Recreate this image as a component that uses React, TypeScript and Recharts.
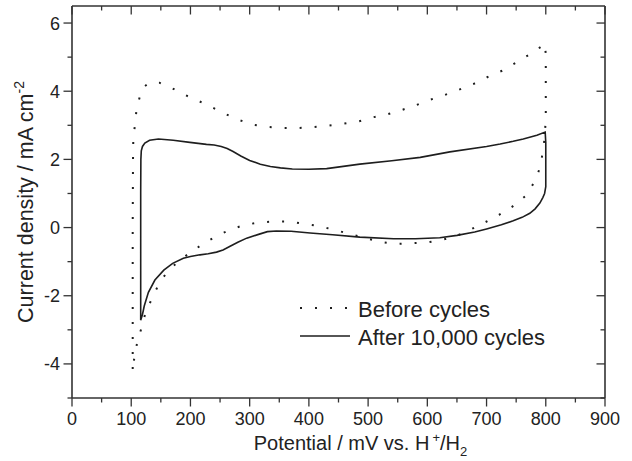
import React from 'react';
import { LineChart, Line, XAxis, YAxis, Legend } from 'recharts';

// ---- data (potential in mV, current density in mA cm^-2) ----
const beforeCycles: [number, number][] = [
  [102.5, -4.15], [102.5, -2], [102.5, 0], [103, 2], [103.5, 2.6], [106.4, 3.03], [109, 3.47], [116, 3.94],
  [123, 4.15], [130.6, 4.25], [147.5, 4.25], [170, 4.08], [190.8, 3.89], [213, 3.72], [234, 3.55], [257, 3.35],
  [281, 3.16], [307.5, 3.01], [331.5, 2.95], [357, 2.92], [382, 2.92], [407.5, 2.95], [434, 2.99], [460, 3.05],
  [485, 3.12], [510, 3.24], [532, 3.32], [557, 3.45], [581, 3.59], [604.5, 3.75], [628, 3.88], [653, 4.04],
  [677.6, 4.21], [701, 4.41], [726, 4.6], [749, 4.83], [772, 5.07], [795, 5.34], [798, 5.4], [800, 5.1],
  [800, 4.0], [800, 3.2], [798, 2.6], [795, 2.29], [792, 1.85], [783, 1.41], [768, 0.96], [744, 0.62],
  [721, 0.37], [697, 0.15], [674, -0.05], [650, -0.24], [625, -0.36], [598, -0.44], [572, -0.46], [547, -0.48],
  [521, -0.42], [489, -0.28], [465, -0.17], [440, -0.05], [414, 0.05], [390.6, 0.11], [367, 0.18], [341.6, 0.18],
  [316, 0.15], [292, 0.08], [270.6, -0.04], [247, -0.22], [225.8, -0.43], [203.8, -0.68], [185, -0.92],
  [163, -1.25], [147.6, -1.62], [137, -2.01], [124.4, -2.48], [117.7, -2.92], [110, -3.38], [105, -3.85],
  [102.5, -4.15],
];

const afterCycles: [number, number][] = [
  [116, -2.72], [116, -1], [116, 1], [116.3, 2.0], [117, 2.25], [119, 2.38], [123, 2.48], [131, 2.56],
  [146, 2.6], [171, 2.56], [199, 2.5], [227, 2.44], [240, 2.42], [252, 2.38], [262, 2.32], [272, 2.23],
  [285, 2.1], [300, 1.97], [318, 1.86], [335, 1.79], [352, 1.75], [372, 1.72], [400, 1.71], [430, 1.73],
  [486, 1.86], [540, 1.96], [588, 2.06], [638, 2.22], [700, 2.38], [723, 2.45], [745, 2.53], [762, 2.6],
  [785, 2.71], [799, 2.8], [800, 2.5], [800, 1.8], [800, 1.2], [798, 1.0], [795, 0.88], [790, 0.72],
  [782, 0.55], [773, 0.42], [760, 0.3], [745, 0.2], [725, 0.08], [700, -0.04], [680, -0.13], [650, -0.23],
  [621, -0.3], [580, -0.33], [543, -0.33], [486, -0.28], [440, -0.21], [402, -0.16], [370, -0.11],
  [345, -0.1], [330, -0.12], [315, -0.2], [295, -0.31], [280, -0.43], [267, -0.55], [255, -0.66],
  [244, -0.72], [230, -0.77], [216, -0.8], [200, -0.85], [188, -0.9], [170, -1.05], [155, -1.25],
  [140, -1.54], [129, -1.9], [122, -2.3], [119, -2.55], [116, -2.72],
];

const seriesNames = ['Before cycles', 'After 10,000 cycles'];
const xTicks = [0, 50, 100, 150, 200, 250, 300, 350, 400, 450, 500, 550, 600, 650, 700, 750, 800, 850, 900];
const yTicks = [-5, -4, -3, -2, -1, 0, 1, 2, 3, 4, 5, 6];
const xDomain: [number, number] = [0, 900];
const yDomain: [number, number] = [-5, 6.5];

const toPoints = (arr: [number, number][]) => arr.map(([x, y]) => ({ x, y }));
const beforeData = toPoints(beforeCycles);
const afterData = toPoints(afterCycles);

// ---- styles ----
const FONT = "'Liberation Sans', Arial, Helvetica, sans-serif";
const AXIS = '#333';
const INK = '#1e1e1e';
const TEXT = '#222';
const MAJOR = 8.5;
const MINOR = 4.5;
const seriesStyles = [
  { dash: '2 13' as string | undefined, width: 2 },
  { dash: undefined as string | undefined, width: 1.6 },
];

const isMajorX = (v: number) => v % 100 === 0;
const isMajorY = (v: number) => Math.abs(v % 2) === 0;

function BottomTick(props: any) {
  const { x, y, payload } = props;
  const major = isMajorX(payload.value);
  return (
    <g>
      <line x1={x} y1={y} x2={x} y2={y + (major ? MAJOR : MINOR)} stroke={AXIS} strokeWidth={1.3} />
      {major && (
        <text x={x} y={y + 27} textAnchor="middle" fontSize={18} fill={TEXT} fontFamily={FONT}>
          {payload.value}
        </text>
      )}
    </g>
  );
}

function TopTick(props: any) {
  const { x, y, payload } = props;
  const major = isMajorX(payload.value);
  return <line x1={x} y1={y} x2={x} y2={y + (major ? MAJOR : MINOR)} stroke={AXIS} strokeWidth={1.3} />;
}

function LeftTick(props: any) {
  const { x, y, payload } = props;
  const major = isMajorY(payload.value);
  return (
    <g>
      <line x1={x - (major ? MAJOR : MINOR)} y1={y} x2={x} y2={y} stroke={AXIS} strokeWidth={1.3} />
      {major && (
        <text x={x - 12} y={y + 6.5} textAnchor="end" fontSize={18} fill={TEXT} fontFamily={FONT}>
          {payload.value}
        </text>
      )}
    </g>
  );
}

function RightTick(props: any) {
  const { x, y, payload } = props;
  const major = isMajorY(payload.value);
  return <line x1={x - (major ? MAJOR : MINOR)} y1={y} x2={x} y2={y} stroke={AXIS} strokeWidth={1.3} />;
}

function XTitle(props: any) {
  const vb = props.viewBox || {};
  const cx = vb.x + vb.width / 2 + 22;
  const y = vb.y + 52;
  return (
    <text x={cx} y={y} textAnchor="middle" fontSize={20} fill={TEXT} fontFamily={FONT}>
      Potential / mV vs. H
      <tspan dx={3} dy={-8} fontSize={13}>+</tspan>
      <tspan dy={8} fontSize={20}>/H</tspan>
      <tspan dy={6} fontSize={13}>2</tspan>
    </text>
  );
}

function YTitle(props: any) {
  const vb = props.viewBox || {};
  const x = vb.x + vb.width - 39;
  const cy = vb.y + vb.height / 2;
  return (
    <text
      x={x}
      y={cy}
      transform={`rotate(-90, ${x}, ${cy})`}
      textAnchor="middle"
      fontSize={21.5}
      fill={TEXT}
      fontFamily={FONT}
    >
      Current density / mA cm
      <tspan dy={-9} fontSize={14}>-2</tspan>
    </text>
  );
}

function LegendBox(props: any) {
  const payload = [...(props.payload || [])].sort(
    (a: any, b: any) => seriesNames.indexOf(a.value) - seriesNames.indexOf(b.value)
  );
  return (
    <svg width={320} height={60} style={{ overflow: 'visible' }}>
      {payload.map((p: any, i: number) => {
        const idx = Math.max(0, seriesNames.indexOf(p.value));
        const st = seriesStyles[idx];
        const ly = 10 + i * 28;
        return (
          <g key={i}>
            <line x1={2} y1={ly} x2={52} y2={ly} stroke={INK} strokeWidth={st.width} strokeDasharray={st.dash} />
            <text x={60} y={ly + 8.5} fontSize={22} fill={TEXT} fontFamily={FONT}>
              {p.value}
            </text>
          </g>
        );
      })}
    </svg>
  );
}

export default function App() {
  return (
    <div style={{ position: 'absolute', left: 0, top: 0, width: 632, height: 461, background: '#fff' }}>
      <LineChart width={632} height={461} margin={{ top: 5, right: 26, bottom: 62, left: 71 }}>
        <XAxis
          xAxisId="bottom"
          type="number"
          dataKey="x"
          domain={xDomain}
          ticks={xTicks}
          interval={0}
          allowDataOverflow
          height={1}
          tickSize={0}
          tickMargin={0}
          tickLine={false}
          axisLine={{ stroke: AXIS, strokeWidth: 1.6 }}
          tick={<BottomTick />}
          label={{ content: <XTitle /> }}
        />
        <XAxis
          xAxisId="top"
          orientation="top"
          type="number"
          dataKey="x"
          domain={xDomain}
          ticks={xTicks}
          interval={0}
          allowDataOverflow
          height={1}
          tickSize={0}
          tickMargin={0}
          tickLine={false}
          axisLine={{ stroke: AXIS, strokeWidth: 1.6 }}
          tick={<TopTick />}
        />
        <YAxis
          yAxisId="left"
          type="number"
          dataKey="y"
          domain={yDomain}
          ticks={yTicks}
          interval={0}
          allowDataOverflow
          width={1}
          tickSize={0}
          tickMargin={0}
          tickLine={false}
          axisLine={{ stroke: AXIS, strokeWidth: 1.6 }}
          tick={<LeftTick />}
          label={{ content: <YTitle /> }}
        />
        <YAxis
          yAxisId="right"
          orientation="right"
          type="number"
          dataKey="y"
          domain={yDomain}
          ticks={yTicks}
          interval={0}
          allowDataOverflow
          width={1}
          tickSize={0}
          tickMargin={0}
          tickLine={false}
          axisLine={{ stroke: AXIS, strokeWidth: 1.6 }}
          tick={<RightTick />}
        />
        <Line
          xAxisId="bottom"
          yAxisId="left"
          data={beforeData}
          dataKey="y"
          name={seriesNames[0]}
          type="linear"
          stroke={INK}
          strokeWidth={seriesStyles[0].width}
          strokeDasharray={seriesStyles[0].dash}
          dot={false}
          activeDot={false}
          isAnimationActive={false}
        />
        <Line
          xAxisId="bottom"
          yAxisId="left"
          data={afterData}
          dataKey="y"
          name={seriesNames[1]}
          type="linear"
          stroke={INK}
          strokeWidth={seriesStyles[1].width}
          dot={false}
          activeDot={false}
          isAnimationActive={false}
        />
        <Legend
          layout="horizontal"
          verticalAlign="middle"
          align="center"
          content={<LegendBox />}
          wrapperStyle={{ position: 'absolute', left: 298, top: 298, width: 320, height: 60 }}
        />
      </LineChart>
    </div>
  );
}
